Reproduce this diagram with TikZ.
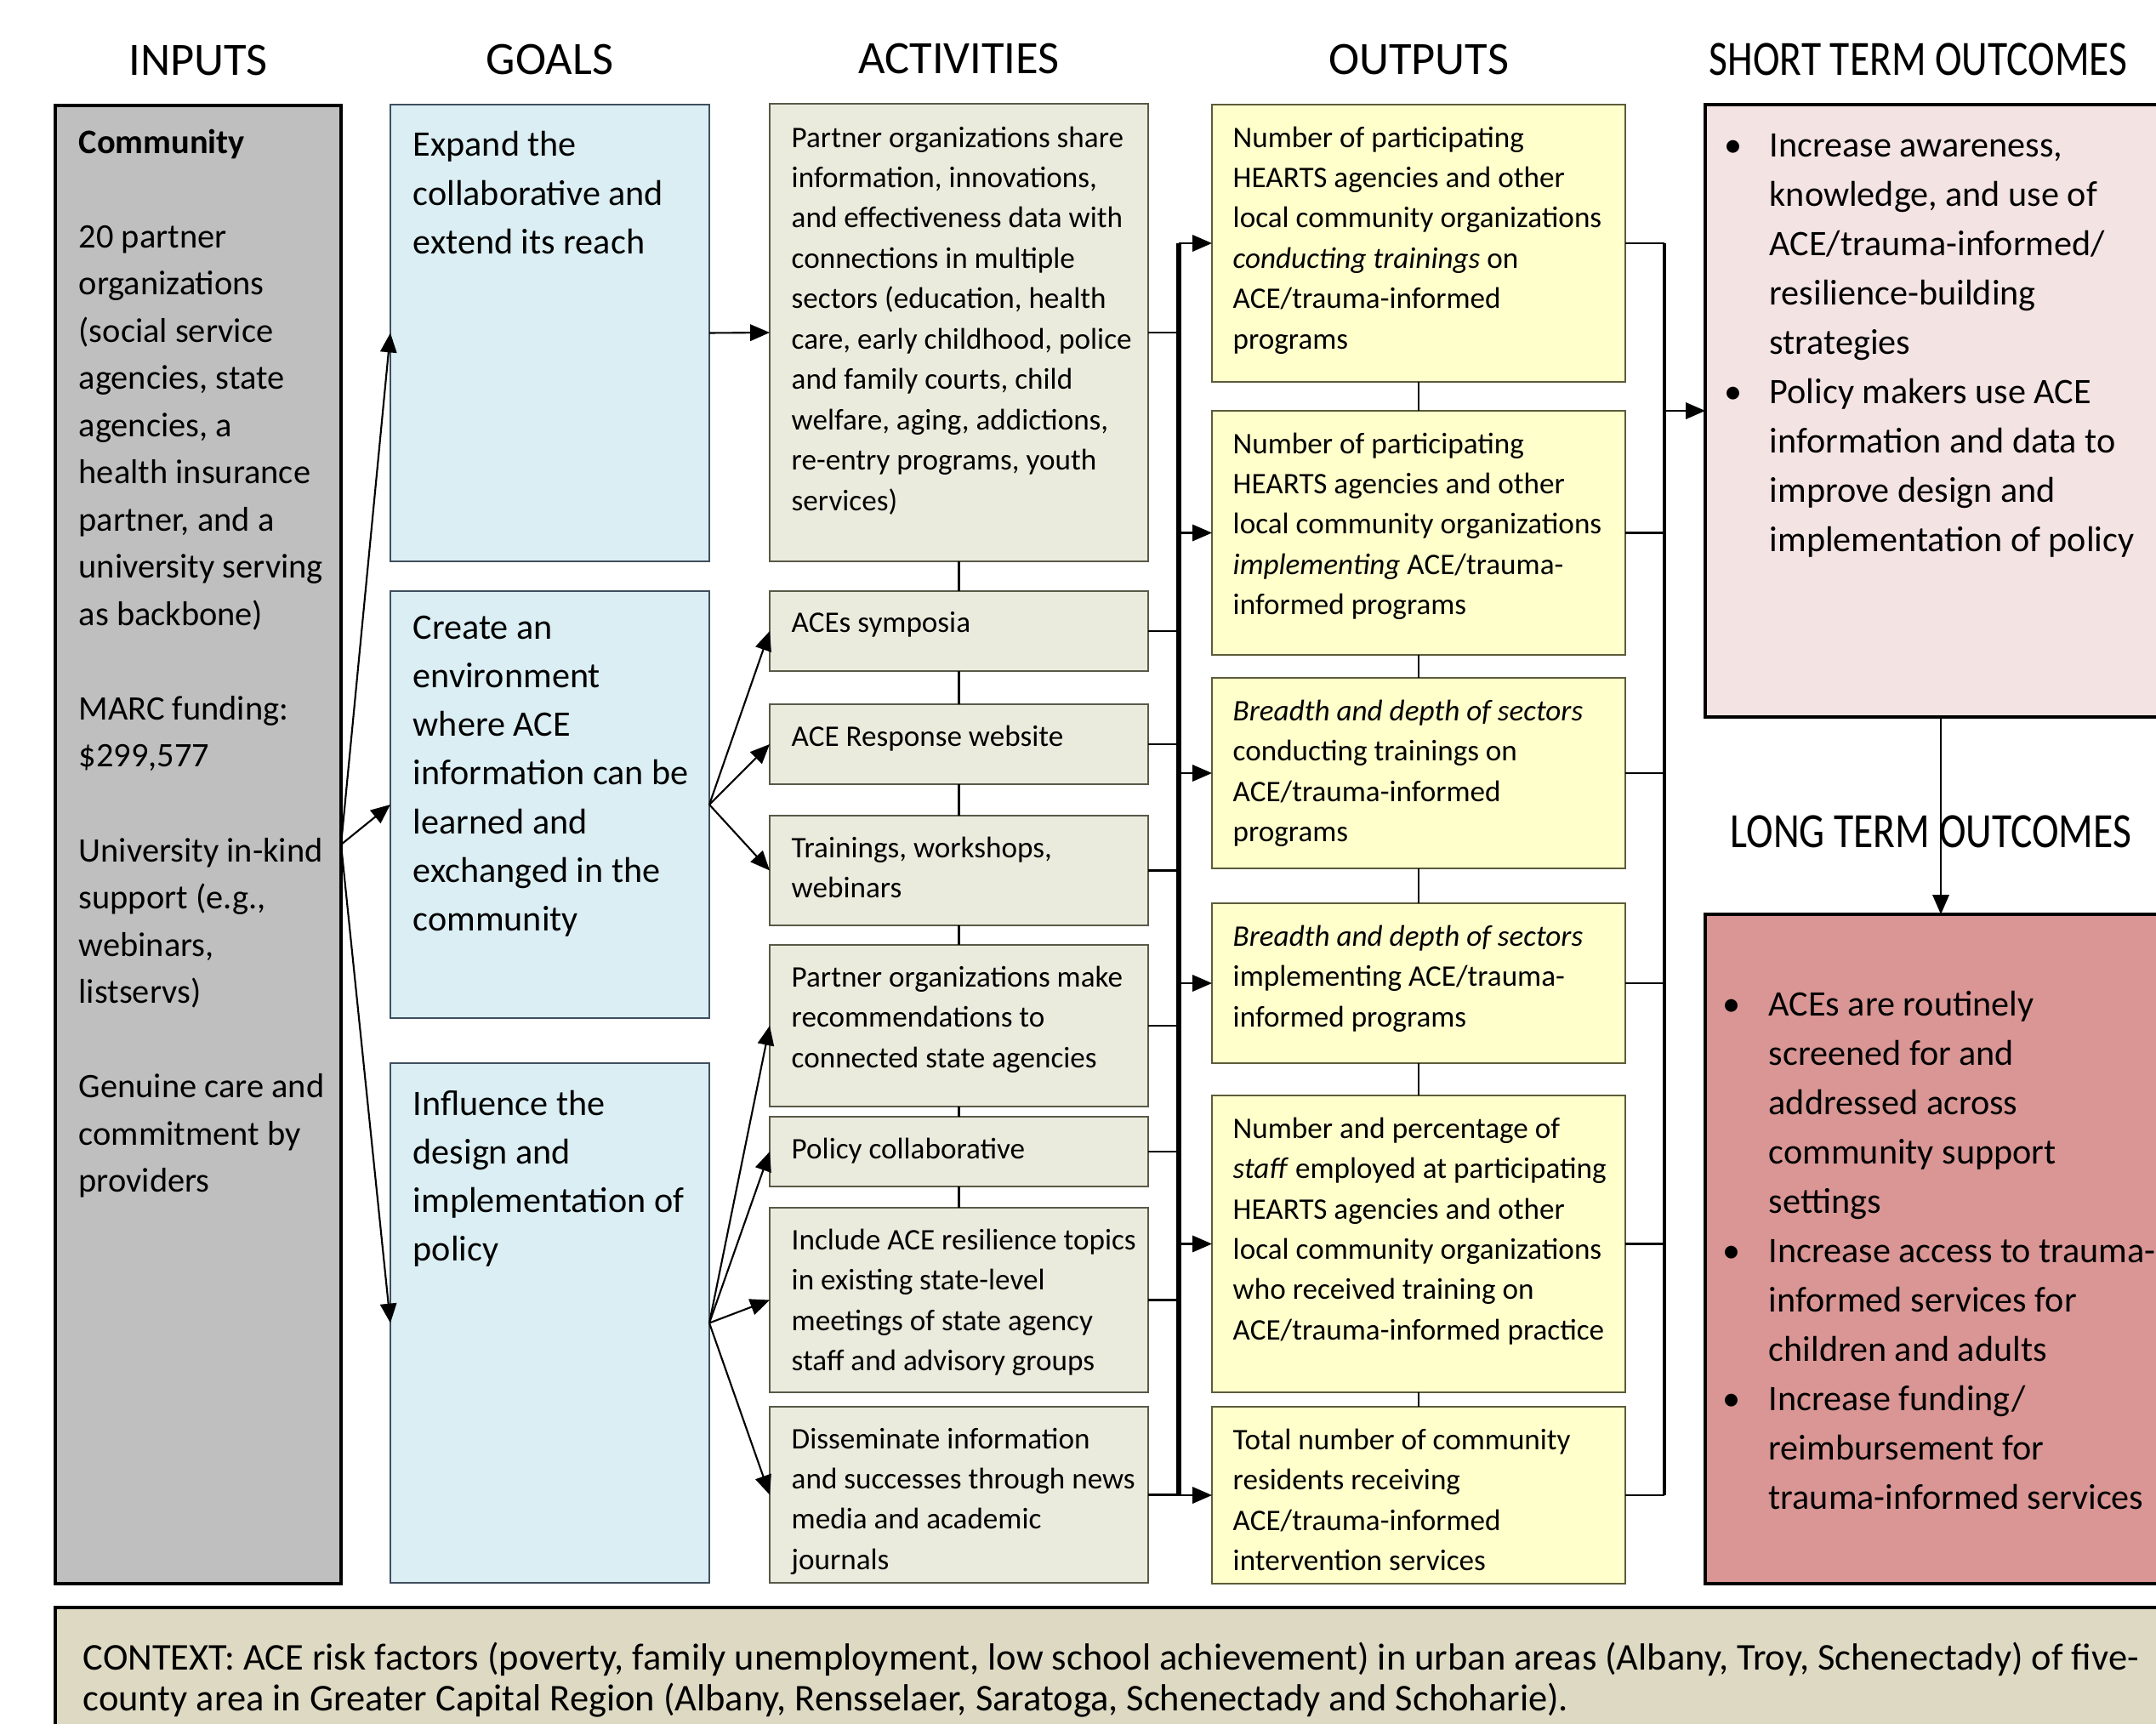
\documentclass[tikz,border=0pt]{standalone}
\usepackage{fontspec}
\setmainfont{Carlito}
\usepackage{tikz}
\usetikzlibrary{positioning}
\usetikzlibrary{arrows.meta}

\definecolor{inputgray}{HTML}{BFBFBF}
\definecolor{goalblue}{HTML}{DAEEF3}
\definecolor{goalborder}{HTML}{3F4F5F}
\definecolor{actgreen}{HTML}{EAEBDC}
\definecolor{actborder}{HTML}{595948}
\definecolor{outyellow}{HTML}{FFFFCC}
\definecolor{outborder}{HTML}{5C5C3A}
\definecolor{shortpink}{HTML}{F4E3E3}
\definecolor{longred}{HTML}{D99694}
\definecolor{contexttan}{HTML}{DDD9C3}

\begin{document}
\begin{tikzpicture}[
	box/.style={draw, line width=0.8pt, inner sep=0pt, outer sep=0pt},
	inputbox/.style={box, fill=inputgray, draw=black, line width=1pt, minimum width=3.36cm},
	goalbox/.style={box, fill=goalblue, draw=goalborder, minimum width=3.75cm},
	actbox/.style={box, fill=actgreen, draw=actborder, minimum width=4.45cm},
	outbox/.style={box, fill=outyellow, draw=outborder, minimum width=4.86cm},
	resultbox/.style={box, draw=black, line width=1pt, minimum width=5.54cm},
	head/.style={inner sep=0pt, font=\fontsize{15.5}{18}\selectfont},
	inptxt/.style={align=left, inner sep=0pt, font=\fontsize{11.5}{15.8}\selectfont},
	bigtxt/.style={align=left, inner sep=0pt, font=\fontsize{12}{16.3}\selectfont},
	smalltxt/.style={align=left, inner sep=0pt, font=\fontsize{10}{13.5}\selectfont},
	arr/.style={-{Triangle[length=6.5pt,width=5.5pt]}, line width=0.6pt},
	link/.style={line width=0.6pt},
	bus/.style={line width=1.5pt},
]
	\path[use as bounding box] (0,0) rectangle (25.35,-20.27);
	
	\node[inputbox, minimum height=17.38cm, anchor=north west] at (0.65,-1.24) (inp) {};
	\node[goalbox, minimum height=5.37cm, anchor=north west] at (4.59,-1.23) (g1) {};
	\node[goalbox, minimum height=5.02cm, below=3.5mm of g1] (g2) {}; \node[goalbox, minimum height=6.11cm, below=5.3mm of g2] (g3) {};
	
	\node[actbox, minimum height=5.38cm, anchor=north west] at (9.05,-1.22) (a1) {};
	\node[actbox, minimum height=0.94cm, below=3.5mm of a1] (a2) {}; \node[actbox, minimum height=0.94cm, below=3.9mm of a2] (a3) {};
	\node[actbox, minimum height=1.29cm, below=3.7mm of a3] (a4) {}; \node[actbox, minimum height=1.90cm, below=2.3mm of a4] (a5) {};
	\node[actbox, minimum height=0.82cm, below=1.2mm of a5] (a6) {}; \node[actbox, minimum height=2.17cm, below=2.5mm of a6] (a7) {};
	\node[actbox, minimum height=2.07cm, below=1.7mm of a7] (a8) {};
	
	\node[outbox, minimum height=3.26cm, anchor=north west] at (14.25,-1.23) (o1) {};
	\node[outbox, minimum height=2.87cm, below=3.4mm of o1] (o2) {}; \node[outbox, minimum height=2.24cm, below=2.7mm of o2] (o3) {};
	\node[outbox, minimum height=1.88cm, below=4.1mm of o3] (o4) {}; \node[outbox, minimum height=3.49cm, below=3.8mm of o4] (o5) {};
	\node[outbox, minimum height=2.08cm, below=1.7mm of o5] (o6) {};
	
	\node[resultbox, fill=shortpink, minimum height=7.20cm, anchor=north west] at (20.05,-1.23) (st) {};
	\node[resultbox, fill=longred, minimum height=7.87cm, below=23.2mm of st] (lt) {};
	\node[box, fill=contexttan, draw=black, line width=1.2pt, minimum width=25cm, minimum height=2cm, anchor=north west] at (0.65,-18.90) (ctx) {};
	
	\node[head, above=3.4mm of inp] (hinp) {INPUTS}; \node[head, above=3.4mm of g1] (hgoal) {GOALS};
	\node[head, above=3.4mm of a1] (hact) {ACTIVITIES}; \node[head, above=3.4mm of o1] (hout) {OUTPUTS};
	\node[head, font=\fontsize{16.5}{19}\selectfont, above right=3.3mm and 0.4mm of st.north west] (hst) {\scalebox{0.82}[1]{SHORT TERM OUTCOMES}};
	\node[head, font=\fontsize{16.5}{19}\selectfont, above right=7.7mm and 2.9mm of lt.north west] (hlt) {\scalebox{0.82}[1]{LONG TERM OUTCOMES}};
	
	\node[inptxt, below right=2.7mm and 2.7mm of inp.north west] (tinp) {\textbf{Community}\\[15.8pt]
		20 partner\\ organizations\\ (social service\\ agencies,  state\\ agencies, a\\ health insurance\\ partner, and a\\ university serving\\ as backbone)\\[15.8pt]
		MARC funding:\\ \$299,577\\[15.8pt]
		University in-kind\\ support (e.g.,\\ webinars,\\ listservs)\\[15.8pt]
		Genuine care and\\ commitment by\\ providers};
	
	\node[bigtxt, below right=3.1mm and 2.6mm of g1.north west] (tg1) {Expand the\\ collaborative and\\ extend its reach};
	\node[bigtxt, below right=2.8mm and 2.6mm of g2.north west] (tg2) {Create an\\ environment\\ where ACE\\ information can be\\ learned and\\ exchanged in the\\ community};
	\node[bigtxt, below right=3.1mm and 2.6mm of g3.north west] (tg3) {Influence the\\ design and\\ implementation of\\ policy};
	
	\node[smalltxt, below right=2.6mm and 2.5mm of a1.north west] (ta1) {Partner organizations share\\ information, innovations,\\ and effectiveness data with\\ connections in multiple\\ sectors (education, health\\ care, early childhood, police\\ and family courts, child\\ welfare, aging, addictions,\\ re-entry programs, youth\\ services)};
	\node[smalltxt, below right=2.4mm and 2.5mm of a2.north west] (ta2) {ACEs symposia};
	\node[smalltxt, below right=2.4mm and 2.5mm of a3.north west] (ta3) {ACE Response website};
	\node[smalltxt, below right=2.4mm and 2.5mm of a4.north west] (ta4) {Trainings, workshops,\\ webinars};
	\node[smalltxt, below right=2.4mm and 2.5mm of a5.north west] (ta5) {Partner organizations make\\ recommendations to\\ connected state agencies};
	\node[smalltxt, below right=2.4mm and 2.5mm of a6.north west] (ta6) {Policy collaborative};
	\node[smalltxt, below right=2.4mm and 2.5mm of a7.north west] (ta7) {Include ACE resilience topics\\ in existing state-level\\ meetings of state agency\\ staff and advisory groups};
	\node[smalltxt, below right=2.4mm and 2.5mm of a8.north west] (ta8) {Disseminate information\\ and successes through news\\ media and academic\\ journals};
	
	\node[smalltxt, below right=2.5mm and 2.4mm of o1.north west] (to1) {Number of participating\\ HEARTS agencies and other\\ local community organizations\\ \textit{conducting trainings} on\\ ACE/trauma-informed\\ programs};
	\node[smalltxt, below right=2.5mm and 2.4mm of o2.north west] (to2) {Number of participating\\ HEARTS agencies and other\\ local community organizations\\ \textit{implementing} ACE/trauma-\\ informed programs};
	\node[smalltxt, below right=2.5mm and 2.4mm of o3.north west] (to3) {\textit{Breadth and depth of sectors}\\ conducting trainings on\\ ACE/trauma-informed\\ programs};
	\node[smalltxt, below right=2.5mm and 2.4mm of o4.north west] (to4) {\textit{Breadth and depth of sectors}\\ implementing ACE/trauma-\\ informed programs};
	\node[smalltxt, below right=2.5mm and 2.4mm of o5.north west] (to5) {Number and percentage of\\ \textit{staff} employed at participating\\ HEARTS agencies and other\\ local community organizations\\ who received training on\\ ACE/trauma-informed practice};
	\node[smalltxt, below right=2.5mm and 2.4mm of o6.north west] (to6) {Total number of community\\ residents receiving\\ ACE/trauma-informed\\ intervention services};
	
	\node[inner sep=0pt, font=\fontsize{12}{16.5}\selectfont, below right=2mm and 2.2mm of st.north west] (tst) {\begin{tabular}{@{}p{0.53cm}@{}l@{}}
		\textbullet & Increase awareness,\\ & knowledge, and use of\\ & ACE/trauma-informed/\\ & resilience-building\\ & strategies\\
		\textbullet & Policy makers use ACE\\ & information and data to\\ & improve design and\\ & implementation of policy
		\end{tabular}};
	\node[inner sep=0pt, font=\fontsize{12}{16.5}\selectfont, below right=7.8mm and 2mm of lt.north west] (tlt) {\begin{tabular}{@{}p{0.54cm}@{}l@{}}
		\textbullet & ACEs are routinely\\ & screened for and\\ & addressed across\\ & community support\\ & settings\\
		\textbullet & Increase access to trauma-\\ & informed services for\\ & children and adults\\
		\textbullet & Increase funding/\\ & reimbursement for\\ & trauma-informed services
		\end{tabular}};
	\node[align=left, inner sep=0pt, font=\fontsize{12.65}{13.6}\selectfont, below right=4mm and 3.2mm of ctx.north west] (tctx) {CONTEXT: ACE risk factors (poverty, family unemployment,  low school achievement) in urban areas (Albany, Troy, Schenectady) of five-\\ county area in Greater Capital Region (Albany, Rensselaer, Saratoga, Schenectady and Schoharie).};
	
	\coordinate (lb) at (13.86,0); \coordinate (rb) at (19.57,0);
	
	\draw[arr] (inp.east) -- (g1.west); \draw[arr] (inp.east) -- (g2.west); \draw[arr] (inp.east) -- (g3.west);
	\draw[arr] (g1.east) -- (a1.west);
	\draw[arr] (g2.east) -- (a2.west); \draw[arr] (g2.east) -- (a3.west); \draw[arr] (g2.east) -- (a4.west);
	\draw[arr] (g3.east) -- (a5.west); \draw[arr] (g3.east) -- (a6.west); \draw[arr] (g3.east) -- (a7.west); \draw[arr] (g3.east) -- (a8.west);
	
	\draw[link] (a1) -- (a2); \draw[link] (a2) -- (a3); \draw[link] (a3) -- (a4); \draw[link] (a4) -- (a5); \draw[link] (a5) -- (a6); \draw[link] (a6) -- (a7);
	\draw[link] (o1) -- (o2); \draw[link] (o2) -- (o3); \draw[link] (o3) -- (o4); \draw[link] (o4) -- (o5); \draw[link] (o5) -- (o6);
	
	\draw[link] (a1.east) -- (a1.east -| lb); \draw[link] (a2.east) -- (a2.east -| lb); \draw[link] (a3.east) -- (a3.east -| lb); \draw[link] (a4.east) -- (a4.east -| lb);
	\draw[link] (a5.east) -- (a5.east -| lb); \draw[link] (a6.east) -- (a6.east -| lb); \draw[link] (a7.east) -- (a7.east -| lb); \draw[link] (a8.east) -- (a8.east -| lb);
	\draw[bus] (lb |- o1.west) -- (lb |- a8.east);
	\draw[arr] (lb |- o1.west) -- (o1.west); \draw[arr] (lb |- o2.west) -- (o2.west); \draw[arr] (lb |- o3.west) -- (o3.west);
	\draw[arr] (lb |- o4.west) -- (o4.west); \draw[arr] (lb |- o5.west) -- (o5.west); \draw[arr] (lb |- o6.west) -- (o6.west);
	
	\draw[link] (o1.east) -- (o1.east -| rb); \draw[link] (o2.east) -- (o2.east -| rb); \draw[link] (o3.east) -- (o3.east -| rb);
	\draw[link] (o4.east) -- (o4.east -| rb); \draw[link] (o5.east) -- (o5.east -| rb); \draw[link] (o6.east) -- (o6.east -| rb);
	\draw[line width=1.1pt] (rb |- o1.east) -- (rb |- o6.east);
	\draw[arr] (rb |- st.west) -- (st.west);
	\draw[arr] (st.south) -- (lt.north);
	
\end{tikzpicture}
\end{document}
